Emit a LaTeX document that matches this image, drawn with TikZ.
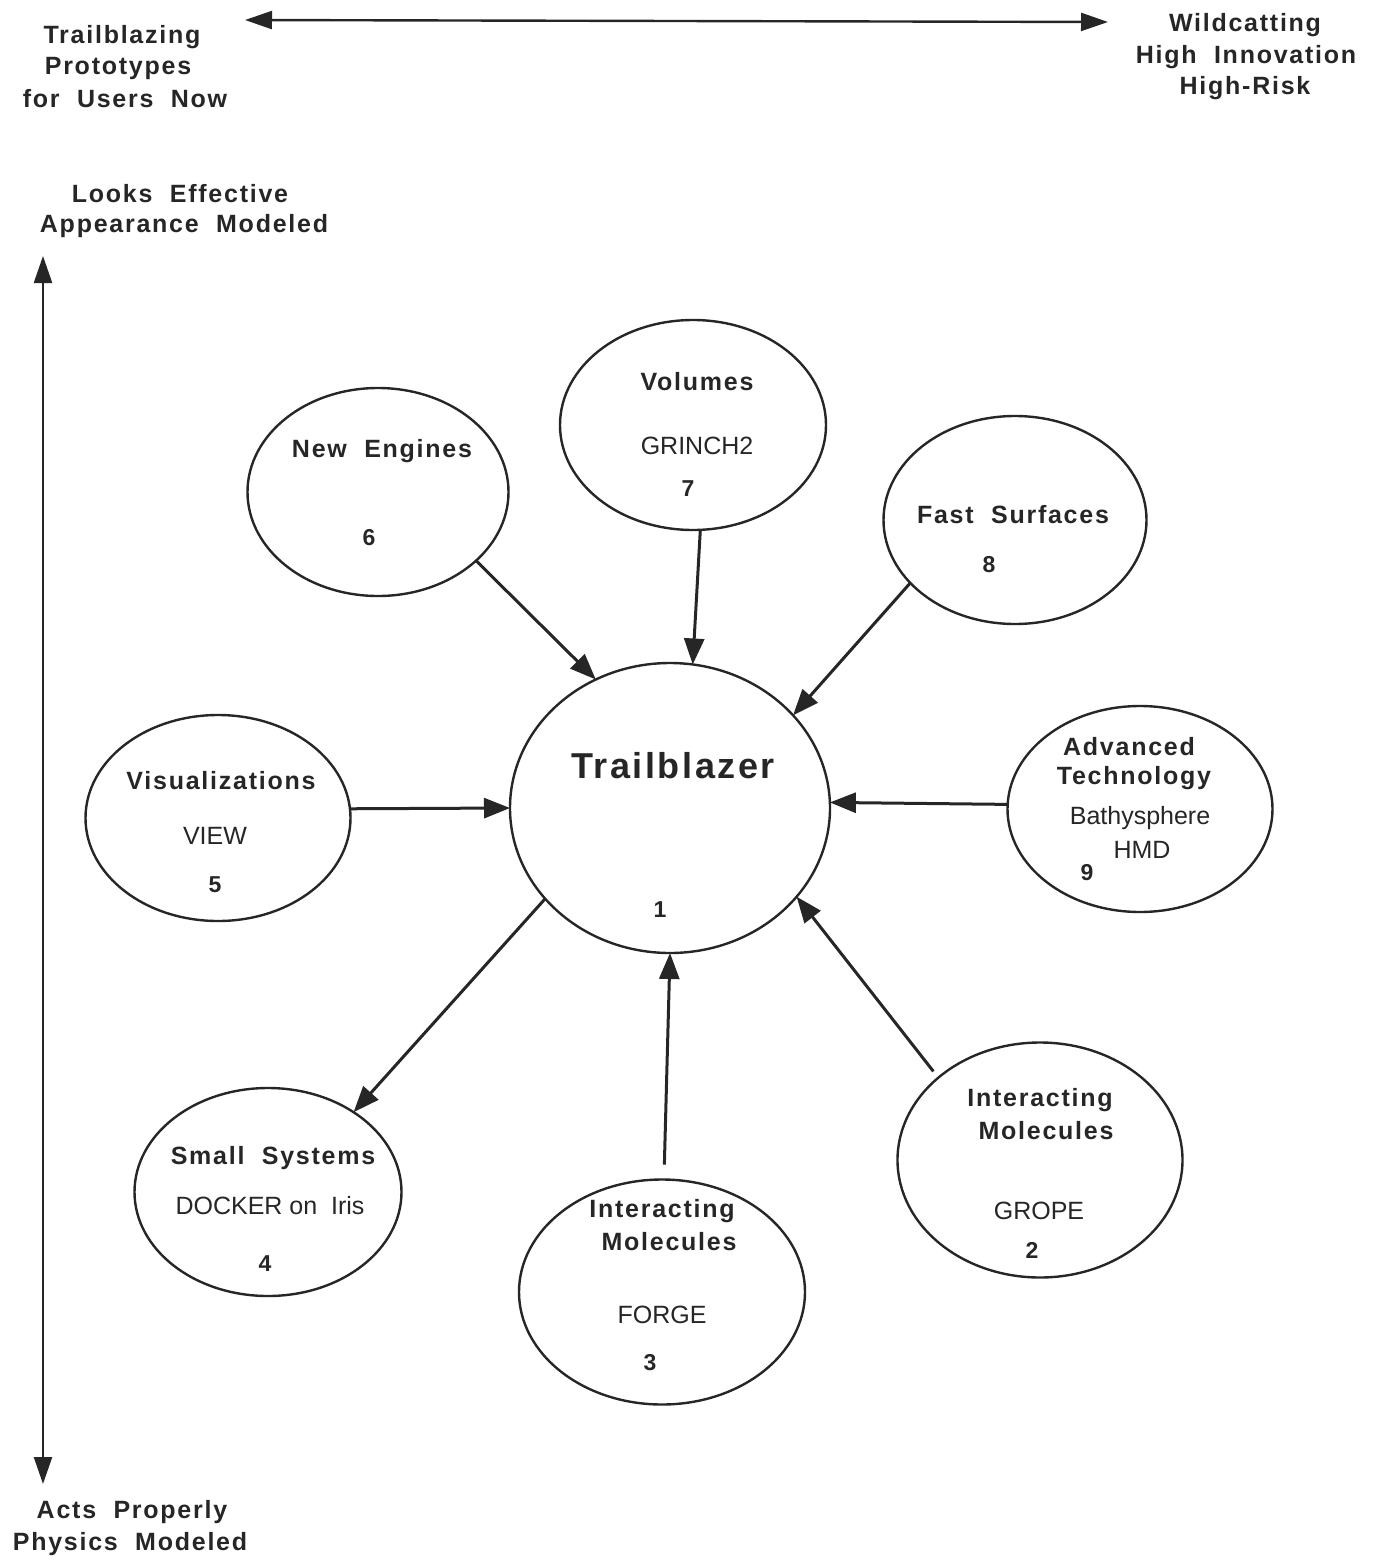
\documentclass[tikz,border=0pt]{standalone}
\usepackage{fontspec}
\setmainfont{Liberation Sans}
\newfontfamily\lsp[LetterSpace=7]{Liberation Sans}
\usetikzlibrary{shapes.geometric,arrows.meta}
\definecolor{ink}{HTML}{262626}
\begin{document}
\begin{tikzpicture}[x=1pt,y=-1pt,
  ell/.style={draw=ink, line width=2.4pt, ellipse, inner sep=0pt, outer sep=0pt},
  hd/.style={font=\lsp\bfseries\fontsize{25}{30}\selectfont, text=ink, inner sep=0pt},
  big/.style={font=\lsp\bfseries\fontsize{36}{40}\selectfont, text=ink, inner sep=0pt},
  num/.style={font=\bfseries\fontsize{23}{28}\selectfont, text=ink, inner sep=0pt},
  rg/.style={font=\fontsize{25}{30}\selectfont, text=ink, inner sep=0pt},
  con/.style={draw=ink, line width=3pt, -{Triangle[length=26pt,width=20pt]}},
  axis/.style={draw=ink, line width=2.4pt, {Triangle[length=27pt,width=18pt]}-{Triangle[length=27pt,width=18pt]}},
]
\useasboundingbox (0,0) rectangle (1377,1561);

% axes
\coordinate (axL) at (245,20);
\coordinate (axR) at (1108,22);
\draw[axis] (axL) -- (axR);
\coordinate (axT) at (43,256);
\coordinate (axB) at (43,1484);
\draw[axis] (axT) -- (axB);

% axis labels
\node[hd] (l1) at (122,37) {Trailblazing};
\node[hd] (l2) at (118,68) {Prototypes};
\node[hd] (l3) at (125,99) {for~~Users~~Now};
\node[hd] (r1) at (1245,25) {Wildcatting};
\node[hd] (r2) at (1246,57) {High~~Innovation};
\node[hd] (r3) at (1245,88) {High-Risk};
\node[hd] (t1) at (180,194) {Looks~~Effective};
\node[hd] (t2) at (184,226) {Appearance~~Modeled};
\node[hd] (b1) at (132,1512) {Acts~~Properly};
\node[hd] (b2) at (130,1544) {Physics~~Modeled};

% ellipses
\node[ell, minimum width=320pt, minimum height=290pt] (tb) at (670,808) {};
\node[ell, minimum width=266pt, minimum height=210pt] (vol) at (693,425) {};
\node[ell, minimum width=261pt, minimum height=208pt] (ne) at (378,492) {};
\node[ell, minimum width=263pt, minimum height=208pt] (fs) at (1015,520) {};
\node[ell, minimum width=265pt, minimum height=206pt] (at) at (1140,809) {};
\node[ell, minimum width=265pt, minimum height=206pt] (vis) at (218,818) {};
\node[ell, minimum width=267pt, minimum height=208pt] (ss) at (268,1192) {};
\node[ell, minimum width=286pt, minimum height=225pt] (fo) at (662,1292) {};
\node[ell, minimum width=285pt, minimum height=235pt] (gr) at (1040,1160) {};

% texts
\node[big] (tbt) at (673,766) {Trailblazer};
\node[num] (tbn) at (660,910) {1};
\node[hd] (volt) at (697,382) {Volumes};
\node[rg] (volg) at (697,446) {GRINCH2};
\node[num] (voln) at (688,489) {7};
\node[hd] (net) at (382,451) {New~~Engines};
\node[num] (nen) at (369,538) {6};
\node[hd] (fst) at (1013,515) {Fast~~Surfaces};
\node[num] (fsn) at (989,565) {8};
\node[hd] (at1) at (1129,747) {Advanced};
\node[hd] (at2) at (1134,778) {Technology};
\node[rg] (at3) at (1140,818) {Bathysphere};
\node[rg] (at4) at (1142,850) {HMD};
\node[num] (atn) at (1087,873) {9};
\node[hd] (vist) at (221,781) {Visualizations};
\node[rg] (visv) at (215,836) {VIEW};
\node[num] (visn) at (215,885) {5};
\node[hd] (sst) at (273,1158) {Small~~Systems};
\node[rg] (ssd) at (270,1206) {DOCKER on~ Iris};
\node[num] (ssn) at (265,1264) {4};
\node[hd] (fo1) at (662,1211) {Interacting};
\node[hd] (fo2) at (669,1242) {Molecules};
\node[rg] (fof) at (662,1315) {FORGE};
\node[num] (fon) at (650,1363) {3};
\node[hd] (gr1) at (1040,1100) {Interacting};
\node[hd] (gr2) at (1046,1131) {Molecules};
\node[rg] (grg) at (1039,1211) {GROPE};
\node[num] (grn) at (1032,1250) {2};

% connectors
\draw[con] (ne.-35) -- (tb.120);
\draw[con] (vol.-86) -- (tb.81);
\draw[con] (fs.211) -- (tb.37);
\draw[con] (at.178) -- (tb.2);
\draw[con] (vis.4) -- (tb.180);
\draw[con] (tb.216) -- (ss.43);
\draw[con, shorten <=15pt] (fo.89) -- (tb.-90);
\draw[con, shorten <=8pt] (gr.141) -- (tb.-35);
\end{tikzpicture}
\end{document}
